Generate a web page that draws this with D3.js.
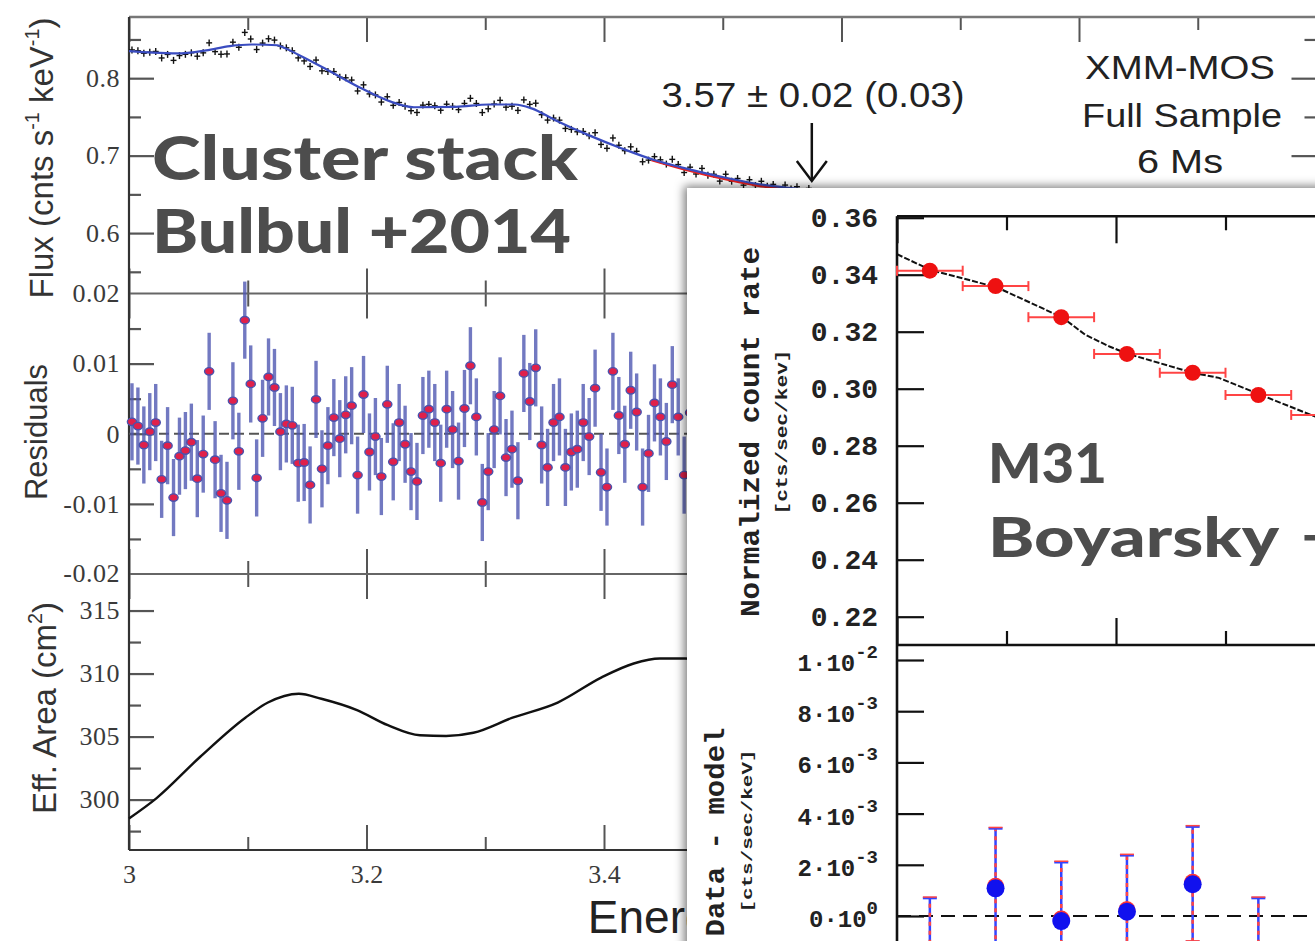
<!DOCTYPE html>
<html><head><meta charset="utf-8">
<script src="https://cdn.jsdelivr.net/npm/d3@7"></script>
<style>body{margin:0;background:#fff;overflow:hidden}svg{display:block}</style>
</head><body>
<svg id="c" width="1315" height="941"></svg>
<script>
// ---------------- DATA ----------------
// Left figure: XMM-MOS stacked cluster spectrum (Bulbul+2014)
const fluxBinStart = 3.0025, fluxBinStep = 0.005;
const fluxData = [0.8365,0.8354,0.8322,0.8336,0.8345,0.8261,0.8307,0.8230,0.8292,0.8308,
  0.8328,0.8284,0.8327,0.8456,0.8343,0.8309,0.8313,0.8465,0.8399,0.8591,
  0.8506,0.8370,0.8453,0.8509,0.8492,0.8416,0.8392,0.8353,0.8262,0.8223,
  0.8151,0.8234,0.8095,0.8087,0.8085,0.8013,0.8005,0.7976,0.7835,0.7914,
  0.7797,0.7784,0.7692,0.7760,0.7649,0.7686,0.7637,0.7580,0.7557,0.7652,
  0.7662,0.7643,0.7586,0.7664,0.7636,0.7594,0.7674,0.7740,0.7673,0.7556,
  0.7605,0.7666,0.7714,0.7626,0.7638,0.7584,0.7720,0.7662,0.7677,0.7529,
  0.7459,0.7485,0.7458,0.7351,0.7339,0.7308,0.7312,0.7258,0.7296,0.7145,
  0.7094,0.7228,0.7134,0.7064,0.7114,0.7056,0.6921,0.6942,0.6987,0.6946,
  0.6891,0.6952,0.6885,0.6782,0.6851,0.6763,0.6835,0.6747,0.6759,0.6671,
  0.6760,0.6670,0.6705,0.6619,0.6689,0.6614,0.6669,0.6604,0.6629,0.6555,
  0.6620,0.6570,0.6599,0.6538,0.6577];
const fluxErr = 0.0045;
const residuals = [0.0017,0.0011,-0.0016,0.0003,0.0016,-0.0065,-0.0017,-0.0091,-0.0032,-0.0024,
  -0.0012,-0.0064,-0.0029,0.0089,-0.0037,-0.0085,-0.0095,0.0047,-0.0025,0.0162,
  0.0071,-0.0063,0.0022,0.0081,0.0066,0.0003,0.0014,0.0012,-0.0042,-0.0041,
  -0.0073,0.0049,-0.0050,-0.0017,0.0023,-0.0007,0.0027,0.0040,-0.0059,0.0056,
  -0.0026,-0.0004,-0.0061,0.0042,-0.0040,0.0016,-0.0015,-0.0054,-0.0068,0.0026,
  0.0035,0.0016,-0.0042,0.0035,0.0006,-0.0039,0.0036,0.0097,0.0024,-0.0098,
  -0.0054,0.0006,0.0054,-0.0034,-0.0022,-0.0067,0.0086,0.0046,0.0094,-0.0016,
  -0.0048,0.0016,0.0024,-0.0048,-0.0026,-0.0022,0.0016,-0.0004,0.0065,-0.0055,
  -0.0076,0.0089,0.0026,-0.0015,0.0062,0.0031,-0.0076,-0.0028,0.0044,0.0024,
  -0.0011,0.0070,0.0024,-0.0059,0.0030,-0.0040,0.0050,-0.0020,0.0010,-0.0060,
  0.0045,-0.0030,0.0020,-0.0050,0.0035,-0.0025,0.0040,-0.0015,0.0020,-0.0045,
  0.0030,-0.0010,0.0025,-0.0030,0.0015];
const residualErr = 0.0055;
const modelE = [3.000,3.020,3.040,3.065,3.085,3.103,3.125,3.128,3.143,3.165,3.193,3.221,3.240,3.275,3.303,3.325,3.339,3.359,3.387,3.415,3.443,3.471,3.499,3.527,3.555,3.580];
const modelFlux = [0.835,0.833,0.832,0.836,0.8415,0.8435,0.8425,0.841,0.830,0.8125,0.789,0.7694,0.7625,0.763,0.766,0.766,0.761,0.7458,0.7265,0.7093,0.694,0.6826,0.6726,0.664,0.6585,0.655];
const redModelE = [3.44,3.47,3.50,3.53,3.56,3.58];
const redModelFlux = [0.6945,0.6815,0.6703,0.6612,0.6555,0.6530];
const effE = [3.00,3.023,3.06,3.098,3.117,3.143,3.162,3.192,3.218,3.245,3.267,3.29,3.323,3.361,3.398,3.425,3.447,3.468,3.50];
const effArea = [298.5,300.1,303.4,306.5,307.7,308.4,308.0,307.1,305.9,305.1,305.05,305.3,306.5,307.7,309.7,310.8,311.2,311.2,311.0];

const energyMajor = [3,3.2,3.4,3.6,3.8,4.0];
const energyLabelVals = [3,3.2,3.4];
const energyLabels = ["3","3.2","3.4"];
const energyMinor = [3.1,3.3,3.5,3.7,3.9];
const fluxTicks = [0.6,0.7,0.8];
const fluxTickLabels = ["0.6","0.7","0.8"];
const fluxMinor = [0.55,0.65,0.75,0.85];
const resTicks = [-0.01,0,0.01];
const resTickLabels = ["-0.01","0","0.01"];
const resEdgeTicks = [0.02,-0.02];
const resEdgeLabels = ["0.02","-0.02"];
const resMinor = [-0.015,-0.005,0.005,0.015];
const effTicks = [300,305,310,315];
const effTickLabels = ["300","305","310","315"];
const effMinor = [297.5,302.5,307.5,312.5];

// Inset: M31 (Boyarsky+2014)
const m31E = [3.03,3.09,3.15,3.21,3.27,3.33,3.39];
const m31Rate = [0.3414,0.3360,0.3251,0.3122,0.3056,0.2978,0.2908];
const m31HalfWidth = 0.03;
const m31ModelE = [3.000,3.031,3.091,3.151,3.172,3.194,3.211,3.270,3.294,3.331,3.382,3.42];
const m31Model = [0.3472,0.3416,0.3356,0.3250,0.3189,0.3148,0.3122,0.3056,0.3038,0.2980,0.2902,0.2850];
const m31Res = [-0.0016,0.00108,-0.0002,0.00017,0.00124,-0.0016,0.0005];
const m31ResErr = [0.0023,0.00234,0.0023,0.0022,0.00225,0.0023,0.0023];
const m31RateTicks = [0.22,0.24,0.26,0.28,0.30,0.32,0.34,0.36];
const m31RateLabels = ["0.22","0.24","0.26","0.28","0.30","0.32","0.34","0.36"];
const m31ResTicks = [0,0.002,0.004,0.006,0.008,0.01];
const m31ResMant = ["0","2","4","6","8","1"];
const m31ResExp = ["0","-3","-3","-3","-3","-2"];
const m31EMajor = [3.0,3.2,3.4];
const m31EMinor = [3.1,3.3];

// ---------------- DRAWING ----------------
const svg = d3.select('#c');
const defs = svg.append('defs');
const f = defs.append('filter').attr('id','sh').attr('x','-10%').attr('y','-10%').attr('width','130%').attr('height','130%');
f.append('feDropShadow').attr('dx',-3).attr('dy',-2).attr('stdDeviation',5).attr('flood-color','#000').attr('flood-opacity',0.5);

const xE = d3.scaleLinear().domain([3,4]).range([129,1316.5]);
const yFlux = d3.scaleLinear().domain([0.522,0.879]).range([293.5,17]);
const yRes = d3.scaleLinear().domain([-0.02,0.02]).range([574,293.5]);
const yEff = d3.scaleLinear().domain([296,317.9]).range([850,574]);
const panels = [[17,293.5],[293.5,574],[574,850]];
const L = 129, R = 1316.5;
const main = svg.append('g');
const serif = '"Liberation Serif","DejaVu Serif",serif';

function styleTicks(sel, col, w){
  sel.select('.domain').remove();
  sel.selectAll('.tick line').attr('stroke',col).attr('stroke-width',w);
}
panels.forEach(([y0,y1])=>{
  [[energyMajor,25],[energyMinor,13]].forEach(([vals,len])=>{
    main.append('g').attr('transform',`translate(0,${y0})`)
      .call(d3.axisTop(xE).tickValues(vals).tickSizeInner(-len).tickSizeOuter(0).tickFormat(''))
      .call(s=>styleTicks(s,'#555',2));
    main.append('g').attr('transform',`translate(0,${y1})`)
      .call(d3.axisBottom(xE).tickValues(vals).tickSizeInner(-len).tickSizeOuter(0).tickFormat(''))
      .call(s=>styleTicks(s,'#555',2));
  });
});
function yTicks(scale, major, minor, labels){
  const g1 = main.append('g').attr('transform',`translate(${L},0)`)
    .call(d3.axisLeft(scale).tickValues(major).tickSizeInner(-25).tickSizeOuter(0).tickPadding(9)
      .tickFormat((d,i)=>labels[i]))
    .call(s=>styleTicks(s,'#555',2.2));
  g1.selectAll('text').attr('font-family',serif).attr('font-size',26).attr('fill','#3a3a3a').attr('letter-spacing',0.5);
  main.append('g').attr('transform',`translate(${L},0)`)
    .call(d3.axisLeft(scale).tickValues(minor).tickSizeInner(-12).tickSizeOuter(0).tickFormat(''))
    .call(s=>styleTicks(s,'#555',2.2));
  main.append('g').attr('transform',`translate(${R},0)`)
    .call(d3.axisRight(scale).tickValues(major).tickSizeInner(-25).tickSizeOuter(0).tickFormat(''))
    .call(s=>styleTicks(s,'#555',2.2));
  main.append('g').attr('transform',`translate(${R},0)`)
    .call(d3.axisRight(scale).tickValues(minor).tickSizeInner(-12).tickSizeOuter(0).tickFormat(''))
    .call(s=>styleTicks(s,'#555',2.2));
}
yTicks(yFlux, fluxTicks, fluxMinor, fluxTickLabels);
yTicks(yRes, resTicks, resMinor, resTickLabels);
yTicks(yEff, effTicks, effMinor, effTickLabels);
resEdgeTicks.forEach((v,i)=>{
  main.append('text').attr('x',L-9).attr('y',yRes(v)).attr('dy','0.32em').attr('text-anchor','end')
    .attr('font-family',serif).attr('font-size',26).attr('fill','#3a3a3a').attr('letter-spacing',0.5).text(resEdgeLabels[i]);
});
const xl = main.append('g').attr('transform','translate(0,850)')
  .call(d3.axisBottom(xE).tickValues(energyLabelVals).tickSize(0).tickPadding(15).tickFormat((d,i)=>energyLabels[i]));
xl.select('.domain').remove();
xl.selectAll('text').attr('font-family',serif).attr('font-size',26).attr('fill','#3a3a3a');

const frame = main.append('g').attr('fill','none');
frame.append('line').attr('x1',L).attr('x2',R).attr('y1',17).attr('y2',17).attr('stroke','#777').attr('stroke-width',2.5);
panels.forEach(([y0,y1])=>{
  frame.append('line').attr('x1',L).attr('x2',R).attr('y1',y1).attr('y2',y1).attr('stroke',y1===850?'#333':'#666').attr('stroke-width',2.2);
});
frame.append('line').attr('x1',L).attr('x2',L).attr('y1',17).attr('y2',850).attr('stroke','#333').attr('stroke-width',2.2);
frame.append('line').attr('x1',R).attr('x2',R).attr('y1',17).attr('y2',850).attr('stroke','#333').attr('stroke-width',2.2);

// flux panel
const binE = i => fluxBinStart + fluxBinStep*i;
const lineFlux = d3.line().x((d,i)=>xE(modelE[i])).y(d=>yFlux(d)).curve(d3.curveMonotoneX);
const fd = main.append('g').attr('stroke','#111').attr('stroke-width',1.4);
fluxData.forEach((v,i)=>{
  const e = binE(i);
  fd.append('line').attr('x1',xE(e)).attr('x2',xE(e)).attr('y1',yFlux(v-fluxErr)).attr('y2',yFlux(v+fluxErr));
  fd.append('line').attr('x1',xE(e-fluxBinStep/2)).attr('x2',xE(e+fluxBinStep/2)).attr('y1',yFlux(v)).attr('y2',yFlux(v));
});
main.append('path').attr('d',d3.line().x((d,i)=>xE(redModelE[i])).y(d=>yFlux(d)).curve(d3.curveMonotoneX)(redModelFlux))
  .attr('fill','none').attr('stroke','#e82020').attr('stroke-width',2.5);
main.append('path').attr('d',lineFlux(modelFlux)).attr('fill','none').attr('stroke','#3a4cc0').attr('stroke-width',2.2);

// residual panel
main.append('line').attr('x1',L).attr('x2',R).attr('y1',yRes(0)).attr('y2',yRes(0))
  .attr('stroke','#555').attr('stroke-width',2).attr('stroke-dasharray','10,5');
const rg = main.append('g');
residuals.forEach((v,i)=>{
  const e = binE(i);
  rg.append('line').attr('x1',xE(e)).attr('x2',xE(e)).attr('y1',yRes(v-residualErr)).attr('y2',yRes(v+residualErr))
    .attr('stroke','#5058b2').attr('stroke-width',3.4).attr('opacity',0.8);
});
residuals.forEach((v,i)=>{
  const e = binE(i);
  rg.append('ellipse').attr('cx',xE(e)).attr('cy',yRes(v)).attr('rx',4.6).attr('ry',3.7)
    .attr('fill','#e0204a').attr('stroke','#4a52ad').attr('stroke-width',1.4);
});

// eff area
main.append('path').attr('d',d3.line().x((d,i)=>xE(effE[i])).y(d=>yEff(d)).curve(d3.curveMonotoneX)(effArea))
  .attr('fill','none').attr('stroke','#111').attr('stroke-width',2.4);

// axis titles
function rotTitle(x,y,parts,size){
  const t = main.append('text').attr('transform',`translate(${x},${y}) rotate(-90)`).attr('text-anchor','middle')
    .attr('font-family','"Liberation Sans",Arial,sans-serif').attr('font-size',size).attr('fill','#333');
  parts.forEach(p=>{
    const ts = t.append('tspan').text(p.t);
    if(p.sup){ ts.attr('font-size',size*0.6).attr('dy',-size*0.42); }
    if(p.back){ ts.attr('dy',size*0.42); }
  });
  return t;
}
rotTitle(53,158,[{t:'Flux (cnts s'},{t:'-1',sup:1},{t:' keV',back:1},{t:'-1',sup:1},{t:')',back:1}],33);
rotTitle(47,432,[{t:'Residuals'}],31);
rotTitle(56,708,[{t:'Eff. Area (cm'},{t:'2',sup:1},{t:')',back:1}],33);
main.append('text').attr('x',722).attr('y',933).attr('text-anchor','middle')
  .attr('font-family','"Liberation Sans",Arial,sans-serif').attr('font-size',46).attr('fill','#222').text('Energy (keV)');

// annotations
const ann = main.append('g').attr('font-family','"Liberation Sans",Arial,sans-serif').attr('fill','#222').attr('text-anchor','middle');
ann.append('text').attr('x',813).attr('y',107).attr('font-size',35).attr('textLength',303).attr('lengthAdjust','spacingAndGlyphs').text('3.57 \u00b1 0.02 (0.03)');
ann.append('text').attr('x',1180).attr('y',79).attr('font-size',34).attr('textLength',190).attr('lengthAdjust','spacingAndGlyphs').text('XMM-MOS');
ann.append('text').attr('x',1182).attr('y',127).attr('font-size',34).attr('textLength',200).attr('lengthAdjust','spacingAndGlyphs').text('Full Sample');
ann.append('text').attr('x',1180).attr('y',173).attr('font-size',34).attr('textLength',86).attr('lengthAdjust','spacingAndGlyphs').text('6 Ms');
const ax = xE(3.575);
main.append('line').attr('x1',ax).attr('x2',ax).attr('y1',123).attr('y2',180).attr('stroke','#111').attr('stroke-width',2.5);
main.append('path').attr('d',`M${ax-15},161 L${ax},181 L${ax+15},161`).attr('fill','none').attr('stroke','#111').attr('stroke-width',2.5);

// big labels
const big = main.append('g').attr('font-family','Lato,"Open Sans",sans-serif').attr('font-weight',900).attr('fill','#4d4d4d');
big.append('text').attr('x',152).attr('y',180).attr('font-size',60).attr('textLength',426).attr('lengthAdjust','spacingAndGlyphs').text('Cluster stack');
big.append('text').attr('x',152).attr('y',253).attr('font-size',60).attr('textLength',419).attr('lengthAdjust','spacingAndGlyphs').text('Bulbul +2014');

// ---------------- INSET ----------------
const ins = svg.append('g');
ins.append('rect').attr('x',687).attr('y',188).attr('width',720).attr('height',820).attr('fill','#fff').attr('filter','url(#sh)');
const xM = d3.scaleLinear().domain([3.0,3.4]).range([897,1335]);
const yM = d3.scaleLinear().domain([0.22,0.36]).range([616.7,217.7]);
const yMR = d3.scaleLinear().domain([0,0.01]).range([916,660]);
const mTop = yM(0.3605), mDiv = 645, mL = 897;
const mono = '"Liberation Mono","DejaVu Sans Mono",monospace';

[[m31EMajor,27],[m31EMinor,14]].forEach(([vals,len])=>{
  ins.append('g').attr('transform',`translate(0,${mTop})`)
    .call(d3.axisTop(xM).tickValues(vals).tickSizeInner(-len).tickSizeOuter(0).tickFormat(''))
    .call(s=>styleTicks(s,'#111',2.2));
  ins.append('g').attr('transform',`translate(0,${mDiv})`)
    .call(d3.axisBottom(xM).tickValues(vals).tickSizeInner(-len).tickSizeOuter(0).tickFormat(''))
    .call(s=>styleTicks(s,'#111',2.2));
});
const ry = ins.append('g').attr('transform',`translate(${mL},0)`)
  .call(d3.axisLeft(yM).tickValues(m31RateTicks).tickSizeInner(-27).tickSizeOuter(0).tickPadding(19).tickFormat((d,i)=>m31RateLabels[i]))
  .call(s=>styleTicks(s,'#111',2.2));
ry.selectAll('text').attr('font-family',mono).attr('font-weight','bold').attr('font-size',28).attr('fill','#222');
ins.append('g').attr('transform',`translate(${mL},0)`)
  .call(d3.axisLeft(yMR).tickValues(m31ResTicks).tickSizeInner(-27).tickSizeOuter(0).tickFormat(''))
  .call(s=>styleTicks(s,'#111',2.2));
m31ResTicks.forEach((v,i)=>{
  const t = ins.append('text').attr('x',878).attr('y',yMR(v)+11).attr('text-anchor','end')
    .attr('font-family',mono).attr('font-weight','bold').attr('fill','#222');
  t.append('tspan').attr('font-size',24).text(m31ResMant[i]+'\u00b710');
  t.append('tspan').attr('font-size',19).attr('dy',-13).text(m31ResExp[i]);
});
ins.append('line').attr('x1',mL).attr('x2',1320).attr('y1',mTop).attr('y2',mTop).attr('stroke','#111').attr('stroke-width',2.6);
ins.append('line').attr('x1',mL).attr('x2',1320).attr('y1',mDiv).attr('y2',mDiv).attr('stroke','#111').attr('stroke-width',2.6);
ins.append('line').attr('x1',mL).attr('x2',mL).attr('y1',mTop).attr('y2',950).attr('stroke','#111').attr('stroke-width',2.6);

ins.append('path').attr('d',d3.line().x((d,i)=>xM(m31ModelE[i])).y(d=>yM(d))(m31Model))
  .attr('fill','none').attr('stroke','#111').attr('stroke-width',2).attr('stroke-dasharray','6,2');
const pg = ins.append('g');
m31E.forEach((e,i)=>{
  const y = yM(m31Rate[i]);
  pg.append('line').attr('x1',xM(e-m31HalfWidth)).attr('x2',xM(e+m31HalfWidth)).attr('y1',y).attr('y2',y).attr('stroke','#ff4444').attr('stroke-width',2);
  [e-m31HalfWidth,e+m31HalfWidth].forEach(c=>pg.append('line').attr('x1',xM(c)).attr('x2',xM(c)).attr('y1',y-5).attr('y2',y+5).attr('stroke','#ff4444').attr('stroke-width',2));
  pg.append('circle').attr('cx',xM(e)).attr('cy',y).attr('r',8).attr('fill','#ee1111');
});
ins.append('line').attr('x1',mL).attr('x2',1320).attr('y1',yMR(0)).attr('y2',yMR(0))
  .attr('stroke','#111').attr('stroke-width',2).attr('stroke-dasharray','14,8');
const rr = ins.append('g');
m31E.forEach((e,i)=>{
  const x = xM(e), v = m31Res[i], er = m31ResErr[i];
  rr.append('line').attr('x1',x).attr('x2',x).attr('y1',yMR(v-er)).attr('y2',yMR(v+er)).attr('stroke','#3344ff').attr('stroke-width',2.5);
  rr.append('line').attr('x1',x).attr('x2',x).attr('y1',yMR(v-er)).attr('y2',yMR(v+er)).attr('stroke','#ff4444').attr('stroke-width',2.5).attr('stroke-dasharray','4,5');
  [v-er,v+er].forEach(c=>{
    rr.append('line').attr('x1',x-7).attr('x2',x+7).attr('y1',yMR(c)).attr('y2',yMR(c)).attr('stroke','#3344ff').attr('stroke-width',2.5);
    rr.append('line').attr('x1',x-7).attr('x2',x+7).attr('y1',yMR(c)-1).attr('y2',yMR(c)-1).attr('stroke','#ff4444').attr('stroke-width',1.5);
  });
  rr.append('circle').attr('cx',x).attr('cy',yMR(v)-2).attr('r',8.5).attr('fill','#ff3333');
  rr.append('circle').attr('cx',x).attr('cy',yMR(v)).attr('r',9).attr('fill','#1111ee');
});

function monoRot(x,y,txt,size,len){
  ins.append('text').attr('transform',`translate(${x},${y}) rotate(-90)`).attr('text-anchor','middle')
    .attr('font-family',mono).attr('font-weight','bold')
    .attr('font-size',size).attr('fill','#222').attr('textLength',len).attr('lengthAdjust','spacingAndGlyphs').text(txt);
}
monoRot(759,432,'Normalized count rate',28,370);
monoRot(787,432,'[cts/sec/kev]',17,165);
monoRot(724,832,'Data - model',28,209);
monoRot(752,831,'[cts/sec/keV]',15,163);

const big2 = ins.append('g').attr('font-family','Lato,"Open Sans",sans-serif').attr('font-weight',900).attr('fill','#4d4d4d');
big2.append('text').attr('x',988).attr('y',483).attr('font-size',56).attr('textLength',119).attr('lengthAdjust','spacingAndGlyphs').text('M31');
big2.append('text').attr('x',988).attr('y',557).attr('font-size',56).attr('textLength',291).attr('lengthAdjust','spacingAndGlyphs').text('Boyarsky');
big2.append('text').attr('x',1302).attr('y',557).attr('font-size',56).text('+2014');
</script>
</body></html>
